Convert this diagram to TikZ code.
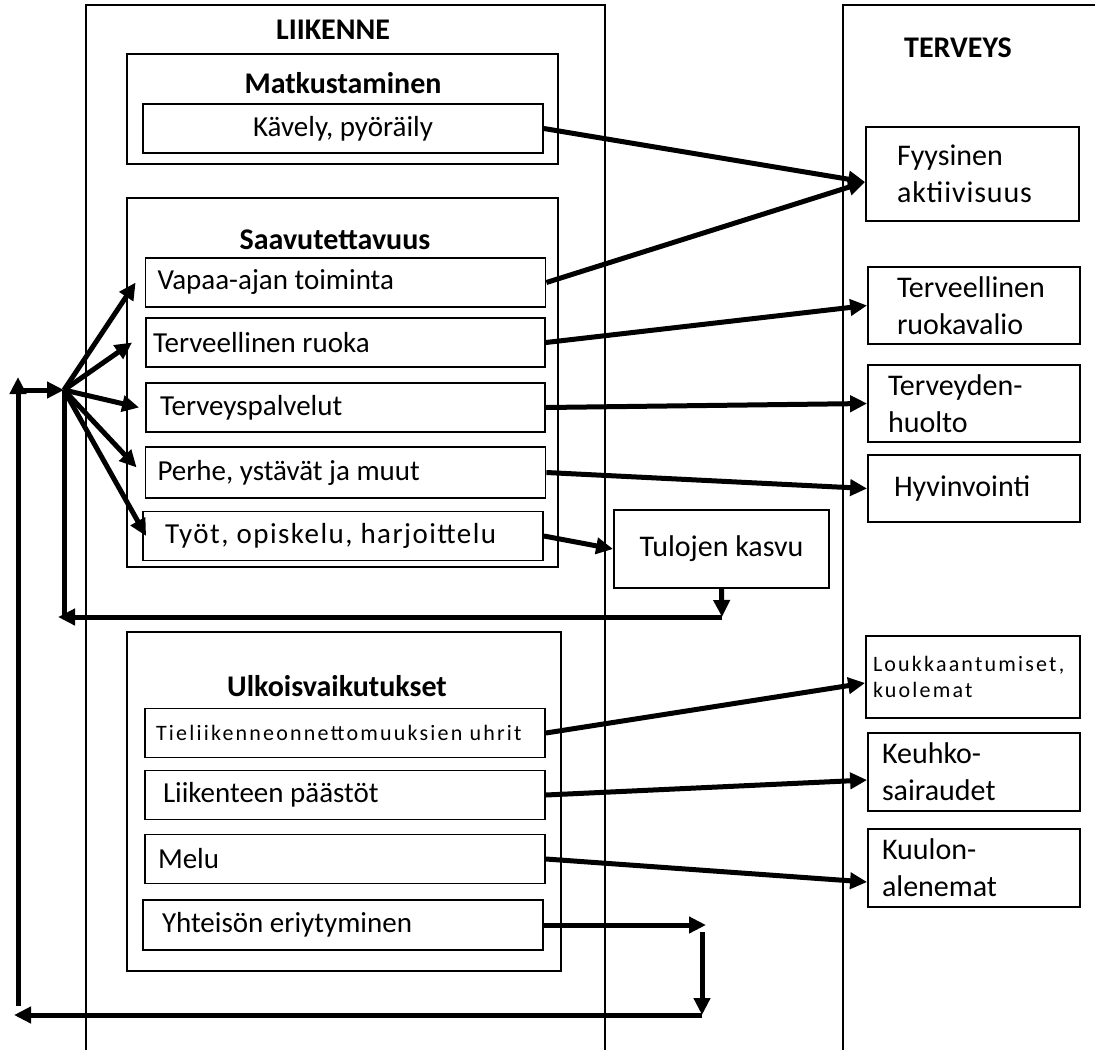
\documentclass[tikz,border=0pt]{standalone}
\usepackage{fontspec}
\setmainfont{Carlito}
\usetikzlibrary{arrows.meta}

\begin{document}
\begin{tikzpicture}[x=1pt, y=-1pt,
    frame/.style={line width=1.4pt},
    grp/.style={draw, line width=1.8pt},
    ttl/.style={font=\fontsize{30}{36}\selectfont\bfseries},
    box/.style={draw, line width=1.8pt, minimum width=400pt, minimum height=49pt,
                inner sep=0pt, font=\fontsize{29}{36}\selectfont},
    lbox/.style={box, text width=376pt, inner xsep=12pt, align=flush left},
    hbox/.style={draw, line width=1.8pt, minimum width=212pt, inner sep=0pt,
                 text width=182pt, inner xsep=15pt, align=flush left, font=\fontsize{30}{37}\selectfont},
    smalltxt/.style={font=\fontsize{22}{26}\selectfont\addfontfeatures{LetterSpace=10}},
    arr/.style={-{Triangle[length=17pt, width=16pt]}, line width=5pt},
    lin/.style={line width=5pt},
]
\useasboundingbox (0,0) rectangle (1095,1050);

% ===== LIIKENNE =====
\draw[frame] (86,1050) -- (86,5) -- (605,5) -- (605,1050);
\node[ttl] (liik) at (333,30) {LIIKENNE};

% Matkustaminen
\draw[grp] (127,54) rectangle (558,164);
\node[ttl] (matk) at (343,83) {Matkustaminen};
\node[box] (kavely) at (343,128.5) {Kävely, pyöräily};

% Saavutettavuus
\draw[grp] (127,198) rectangle (558,567);
\node[ttl] (saav) at (335,240) {Saavutettavuus};
\node[lbox, minimum width=399pt] (vapaa)    at (345.5,282.5) {Vapaa-ajan toiminta};
\node[lbox, minimum width=399pt, inner xsep=7pt, text width=385pt] (ruoka) at (345.5,342.5) {Terveellinen ruoka};
\node[lbox, minimum width=399pt, inner xsep=14pt, text width=371pt] (palvelut) at (345.5,407.5) {Terveyspalvelut};
\node[lbox, minimum width=399pt, minimum height=51pt] (perhe) at (345.5,472.5) {Perhe, ystävät ja muut};
\node[lbox, inner xsep=22pt, text width=356pt] (tyot) at (343,536) {\addfontfeatures{LetterSpace=5}Työt, opiskelu, harjoittelu};

\node[box, minimum width=215pt, minimum height=78pt, font=\fontsize{30}{36}\selectfont] (tulot) at (721.5,549) {Tulojen kasvu};

% Ulkoisvaikutukset
\draw[grp] (127,632) rectangle (561,971);
\node[ttl] (ulko) at (337,686) {Ulkoisvaikutukset};
\node[lbox, inner xsep=11pt, text width=378pt, smalltxt] (tieli) at (345,733) {Tieliikenneonnettomuuksien uhrit};
\node[lbox, inner xsep=18pt, text width=364pt] (paast) at (345,795) {Liikenteen päästöt};
\node[lbox, inner xsep=13pt, text width=374pt] (melu)  at (345,859) {Melu};
\node[lbox, minimum height=50pt, inner xsep=19pt, text width=362pt] (yhteis) at (343,925) {Yhteisön eriytyminen};

% ===== TERVEYS =====
\draw[frame] (1095,5) -- (843,5) -- (843,1050);
\node[ttl] (terv) at (958,48) {TERVEYS};
\node[hbox, minimum width=213pt, minimum height=94pt, inner xsep=31pt, text width=151pt] (fyys) at (972.5,174) {Fyysinen\\\addfontfeatures{LetterSpace=3}aktiivisuus};
\node[hbox, minimum height=77pt, inner xsep=29pt, text width=154pt] (ruokav) at (974,305.5) {Terveellinen\\ruokavalio};
\node[hbox, minimum height=77pt, inner xsep=20pt, text width=172pt] (huolto) at (974,403.5) {Terveyden-\\huolto};
\node[hbox, minimum height=67pt, inner xsep=26pt, text width=160pt] (hyvin) at (974,488.5) {Hyvinvointi};
\node[hbox, minimum width=214pt, minimum height=82pt, inner xsep=7pt, text width=200pt, smalltxt] (loukk) at (973,677) {Loukkaantumiset,\\kuolemat};
\node[hbox, minimum height=78pt, inner xsep=14pt, text width=184pt] (keuhko) at (974,772) {Keuhko-\\sairaudet};
\node[hbox, minimum height=78pt, inner xsep=14pt, text width=184pt] (kuulon) at (974,868) {Kuulon-\\alenemat};

% ===== yhteydet =====
\coordinate (hub) at (64,390);
\draw[arr] (kavely.east) -- ([yshift=-8pt]fyys.west);
\draw[arr] (vapaa.east)  -- ([yshift=-8pt]fyys.west);
\draw[arr] (ruoka.east)  -- (ruokav.west);
\draw[arr] (palvelut.east) -- (huolto.west);
\draw[arr] (perhe.east)  -- (hyvin.west);
\draw[arr] (tyot.east)   -- (tulot.west);
\draw[arr] (tieli.east)  -- ([yshift=-6pt]loukk.west);
\draw[arr] (paast.east)  -- ([yshift=-8pt]keuhko.west);
\draw[arr] (melu.east)   -- ([yshift=-14pt]kuulon.west);

% palaute: tulot -> saavutettavuus
\coordinate (ret)  at (722,617);
\coordinate (retl) at (58,617);
\draw[arr] (tulot.south) -- (ret);
\draw[arr] (ret) -- (retl);
\draw[lin] (hub) -- (hub |- retl);
\draw[arr] (hub) -- ([xshift=-9pt]vapaa.west);
\draw[arr] (hub) -- ([xshift=-13pt]ruoka.west);
\draw[arr] (hub) -- ([xshift=-6pt]palvelut.west);
\draw[arr] (hub) -- ([xshift=-8pt, yshift=5pt]perhe.west);
\draw[arr] (hub) -- ([xshift=4pt]tyot.west);

% palaute: yhteisön eriytyminen
\coordinate (yr)  at (706,925);
\coordinate (yd1) at (702,932);
\coordinate (yd2) at (702,1015);
\coordinate (bl)  at (14,1015);
\coordinate (lb)  at (18,1006);
\coordinate (lt)  at (18,377);
\coordinate (lm)  at (18,390);
\draw[arr] (yhteis.east) -- (yr);
\draw[arr] (yd1) -- (yd2);
\draw[arr] (yd2) -- (bl);
\draw[arr] (lb) -- (lt);
\draw[arr] (lm) -- (hub);
\end{tikzpicture}
\end{document}
